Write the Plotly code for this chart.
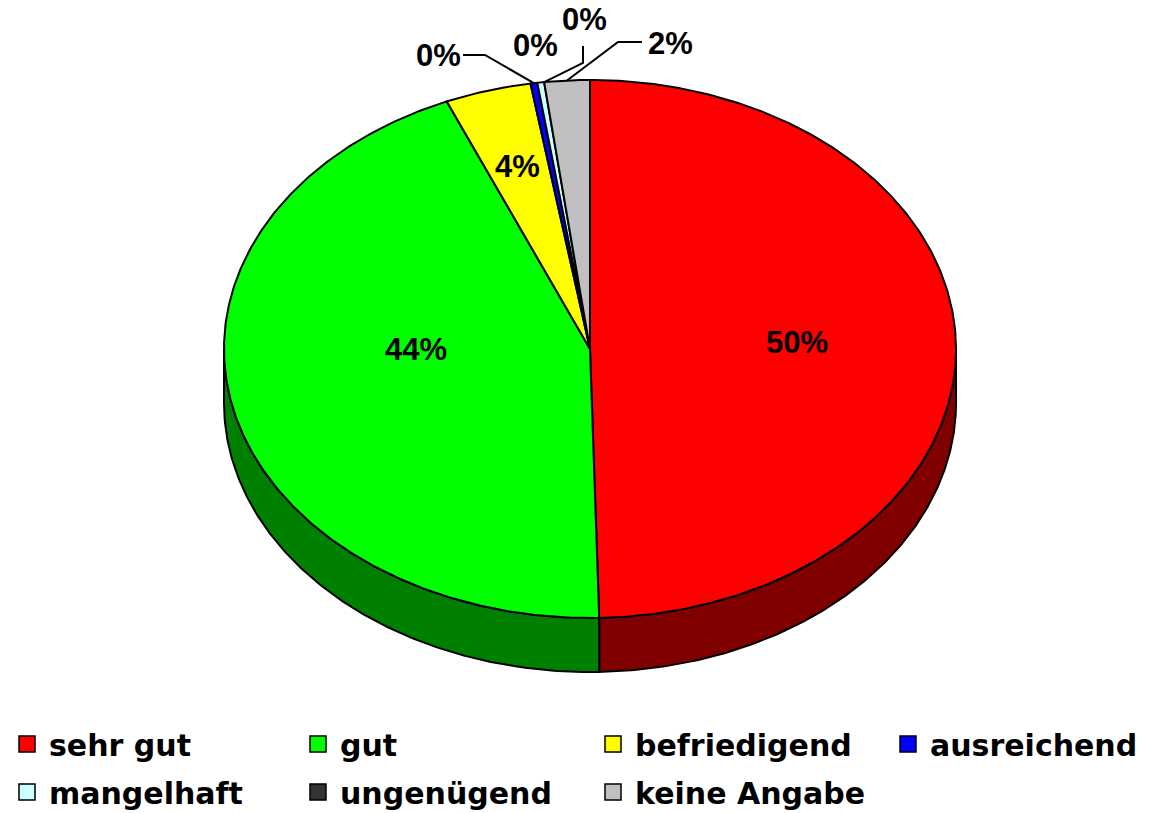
import numpy as np
import plotly.graph_objects as go

# ---------------- data ----------------
categories = ["sehr gut", "gut", "befriedigend", "ausreichend", "mangelhaft", "ungenügend", "keine Angabe"]
values = [49.6, 44.0, 3.8, 0.3, 0.3, 0.0, 2.0]  # percent

# ---------------- style ----------------
top_colors = ["#FF0000", "#00FF00", "#FFFF00", "#0000FF", "#CCFFFF", "#333333", "#C0C0C0"]
side_colors = ["#800000", "#008000", "#808000", "#000080", "#668080", "#1A1A1A", "#606060"]

W, H = 1154, 813
CX, CY, RX, RY, DEPTH = 590, 349, 366, 269, 54
LINE = dict(color="black", width=2)

# label positions (pixel layout) and leader-line elbows
label_pos = [(797, 342), (416, 349), (517, 166), (438, 55), (535, 45), (584, 19), (670, 43)]
leader = {3: [(463, 55), (485, 55)], 5: [(583, 46), (583, 63)], 6: [(642, 42), (618, 42)]}

# legend layout (pixels): square centre x per column, row centre y
leg_cols = [25, 316, 611, 906]
leg_rows = [744, 792]

# ---------------- geometry from data ----------------
total = sum(values)
fracs = [v / total for v in values]
cum = np.concatenate([[0.0], np.cumsum(fracs)])
t0 = cum[:-1] * 2 * np.pi
t1 = cum[1:] * 2 * np.pi


def pt(t, dz=0.0):
    t = np.asarray(t)
    return CX + RX * np.sin(t), CY - RY * np.cos(t) + dz


fig = go.Figure()

# side walls (front half only)
for i in range(len(values)):
    a = max(t0[i], np.pi / 2)
    b = min(t1[i], 3 * np.pi / 2)
    if b <= a:
        continue
    n = max(int(np.degrees(b - a) * 2), 2)
    t = np.linspace(a, b, n)
    xt, yt = pt(t)
    xb, yb = pt(t[::-1], DEPTH)
    fig.add_trace(go.Scatter(
        x=np.r_[xt, xb, xt[:1]], y=np.r_[yt, yb, yt[:1]],
        mode="lines", fill="toself", fillcolor=side_colors[i], line=LINE,
        hoverinfo="skip", showlegend=False))

# top faces
for i in range(len(values)):
    if fracs[i] <= 0:
        continue
    n = max(int(np.degrees(t1[i] - t0[i]) * 2), 2)
    t = np.linspace(t0[i], t1[i], n)
    x, y = pt(t)
    fig.add_trace(go.Scatter(
        x=np.r_[CX, x, CX], y=np.r_[CY, y, CY],
        mode="lines", fill="toself", fillcolor=top_colors[i], line=LINE,
        hoverinfo="skip", showlegend=False))

# leader lines
for i, pts in leader.items():
    mid = (t0[i] + t1[i]) / 2
    ex, ey = pt(mid)
    xs = [p[0] for p in pts] + [float(ex)]
    ys = [p[1] for p in pts] + [float(ey)]
    fig.add_trace(go.Scatter(x=xs, y=ys, mode="lines", line=dict(color="black", width=2),
                             hoverinfo="skip", showlegend=False))

# data labels
for i, v in enumerate(values):
    pct = v / total * 100
    fig.add_annotation(x=label_pos[i][0], y=label_pos[i][1], text=f"{pct:.0f}%",
                       showarrow=False, xanchor="center", yanchor="middle",
                       font=dict(family="Liberation Sans", size=31, color="black", weight="bold"))

# legend: one legend per entry so columns can be placed freely
legend_layout = {}
for i, cat in enumerate(categories):
    key = "legend" if i == 0 else f"legend{i + 1}"
    col = i % 4
    row = i // 4
    fig.add_trace(go.Scatter(
        x=[None], y=[None], mode="markers", name=cat, legend=key,
        marker=dict(symbol="square", size=20, color=top_colors[i], line=dict(color="black", width=1.5)),
        hoverinfo="skip", showlegend=True))
    legend_layout[key] = dict(
        x=(leg_cols[col] - 20) / W, xanchor="left",
        y=1 - leg_rows[row] / H, yanchor="middle",
        orientation="v", bgcolor="rgba(0,0,0,0)", borderwidth=0, itemwidth=34,
        font=dict(family="DejaVu Sans", size=30, color="black", weight="bold"))

fig.update_layout(
    width=W, height=H, autosize=False,
    margin=dict(l=0, r=0, t=0, b=0, autoexpand=False),
    paper_bgcolor="white", plot_bgcolor="white",
    showlegend=True,
    xaxis=dict(range=[0, W], visible=False, fixedrange=True),
    yaxis=dict(range=[H, 0], visible=False, fixedrange=True),
    **legend_layout,
)

fig.write_html("out.html", post_script="document.body.style.margin='0';",
               config={"displayModeBar": False})
